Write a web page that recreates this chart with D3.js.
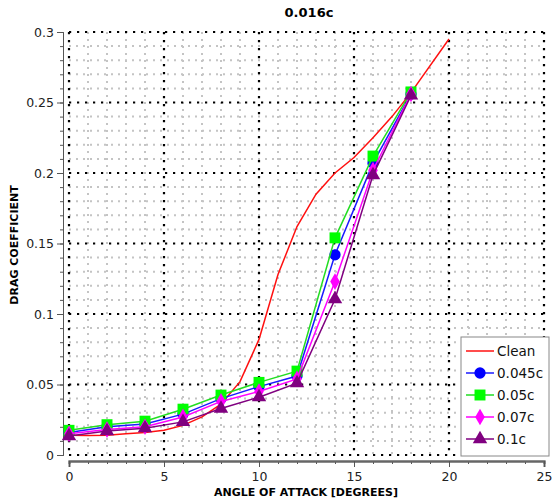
<!DOCTYPE html>
<html>
<head>
<meta charset="utf-8">
<script src="https://cdn.jsdelivr.net/npm/d3@7"></script>
<style>
  body { margin: 0; background: #fff; }
  svg { display: block; font-family: "DejaVu Sans", Verdana, sans-serif; }
</style>
</head>
<body>
<svg id="chart" width="552" height="504"></svg>
<script>
// angles of attack where the coated cases were measured
var angles = [0, 2, 4, 6, 8, 10, 12, 14, 16, 18];
var cleanAngles = [0, 1, 2, 3, 4, 5, 6, 7, 8, 9, 10, 11, 12, 13, 14, 15, 16, 17, 18, 20];
var clean = [0.014, 0.0138, 0.014, 0.015, 0.016, 0.0175, 0.021, 0.027, 0.036, 0.052,
             0.082, 0.128, 0.162, 0.185, 0.200, 0.211, 0.225, 0.240, 0.257, 0.295];
var c045 = [0.016, 0.020, 0.022, 0.029, 0.040, 0.0485, 0.056, 0.142, 0.207, 0.256];
var c05  = [0.0175, 0.0215, 0.024, 0.0325, 0.0425, 0.0515, 0.0595, 0.154, 0.212, 0.2575];
var c07  = [0.015, 0.018, 0.020, 0.027, 0.038, 0.045, 0.054, 0.123, 0.202, 0.256];
var c1   = [0.0135, 0.017, 0.019, 0.0235, 0.033, 0.041, 0.051, 0.1105, 0.1985, 0.255];
var xTicks = [0, 5, 10, 15, 20, 25];
var yTicks = [0, 0.05, 0.1, 0.15, 0.2, 0.25, 0.3];

var svg = d3.select("#chart");

var x = d3.scaleLinear().domain([0, 25]).range([69, 544]),
    y = d3.scaleLinear().domain([0, 0.3]).range([455, 32]);

// minor grid (grey dots)
var g = svg.append("g");
g.selectAll(".vminor").data(d3.range(0, 26).filter(function(d) { return d % 5; }))
  .enter().append("line")
  .attr("x1", function(d) { return x(d); }).attr("x2", function(d) { return x(d); })
  .attr("y1", y(0.3)).attr("y2", y(0))
  .attr("stroke", "#c4c4c4").attr("stroke-width", 2).attr("stroke-dasharray", "2,5");
g.selectAll(".hminor").data(d3.range(0, 31).filter(function(d) { return d % 5; }))
  .enter().append("line")
  .attr("y1", function(d) { return y(d / 100); }).attr("y2", function(d) { return y(d / 100); })
  .attr("x1", x(0)).attr("x2", x(25))
  .attr("stroke", "#c4c4c4").attr("stroke-width", 2).attr("stroke-dasharray", "2,5");

// major grid (black dots)
g.selectAll(".vmajor").data(xTicks)
  .enter().append("line")
  .attr("x1", function(d) { return x(d); }).attr("x2", function(d) { return x(d); })
  .attr("y1", y(0.3)).attr("y2", y(0))
  .attr("stroke", "#000").attr("stroke-width", 2.2).attr("stroke-dasharray", "2.2,5.8");
g.selectAll(".hmajor").data(yTicks)
  .enter().append("line")
  .attr("y1", function(d) { return y(d); }).attr("y2", function(d) { return y(d); })
  .attr("x1", x(0)).attr("x2", x(25))
  .attr("stroke", "#000").attr("stroke-width", 2.2).attr("stroke-dasharray", "2.2,5.8");

// axes
var yAxis = svg.append("g").attr("transform", "translate(63,0)");
yAxis.call(d3.axisLeft(y).tickValues(d3.range(0, 31).map(function(d) { return d / 100; }))
  .tickSize(3).tickFormat(""));
yAxis.append("g").call(d3.axisLeft(y).tickValues(yTicks).tickSize(6).tickFormat(d3.format("")));
yAxis.selectAll("path, line").attr("stroke", "#555");
yAxis.selectAll("text").attr("font-size", "12.5px").attr("fill", "#222")
  .attr("font-family", "DejaVu Sans");

var xAxis = svg.append("g").attr("transform", "translate(0,461)");
xAxis.call(d3.axisBottom(x).tickValues(d3.range(0, 26)).tickSize(3).tickFormat(""));
xAxis.append("g").call(d3.axisBottom(x).tickValues(xTicks).tickSize(6).tickFormat(d3.format("")));
xAxis.selectAll("path").attr("stroke", "#666").attr("stroke-width", 2);
xAxis.selectAll("line").attr("stroke", "#555");
xAxis.selectAll("text").attr("font-size", "12.5px").attr("fill", "#222")
  .attr("font-family", "DejaVu Sans").attr("dy", "0.9em");

// titles
svg.append("text").attr("x", 309).attr("y", 17).attr("text-anchor", "middle")
  .attr("font-size", "13px").attr("font-weight", "bold").text("0.016c");
svg.append("text").attr("x", 306).attr("y", 496).attr("text-anchor", "middle")
  .attr("font-size", "11px").attr("font-weight", "bold").text("ANGLE OF ATTACK [DEGREES]");
svg.append("text").attr("transform", "translate(18,245) rotate(-90)").attr("text-anchor", "middle")
  .attr("font-size", "11px").attr("font-weight", "bold").text("DRAG COEFFICIENT");

// series
var line = d3.line()
  .x(function(d) { return x(d[0]); })
  .y(function(d) { return y(d[1]); });

svg.append("path")
  .datum(d3.zip(cleanAngles, clean))
  .attr("d", line).attr("fill", "none").attr("stroke", "#ff1010").attr("stroke-width", 1.5);

var series = [
  {name: "0.045c", values: c045, color: "#0000ff", line: "#1a1aff", symbol: d3.symbolCircle, size: 100},
  {name: "0.05c",  values: c05,  color: "#00ff00", line: "#22dd22", symbol: d3.symbolSquare, size: 120},
  {name: "0.07c",  values: c07,  color: "#ff00ff", line: "#ff00ff", symbol: d3.symbolDiamond, size: 80},
  {name: "0.1c",   values: c1,   color: "#800080", line: "#800080", symbol: d3.symbolTriangle, size: 90}
];

series.forEach(function(s) {
  var pts = d3.zip(angles, s.values);
  svg.append("path").datum(pts)
    .attr("d", line).attr("fill", "none").attr("stroke", s.line).attr("stroke-width", 1.5);
  svg.selectAll(null).data(pts).enter().append("path")
    .attr("transform", function(d) { return "translate(" + x(d[0]) + "," + y(d[1]) + ")"; })
    .attr("d", d3.symbol().type(s.symbol).size(s.size))
    .attr("fill", s.color);
});

// legend
var lg = svg.append("g").attr("transform", "translate(461,337)");
lg.append("rect").attr("width", 88).attr("height", 119)
  .attr("fill", "#fff").attr("stroke", "#888").attr("stroke-width", 1);
var items = [{name: "Clean", line: "#ff1010"}].concat(series);
items.forEach(function(s, i) {
  var yy = 14 + i * 22;
  lg.append("line").attr("x1", 5).attr("x2", 33).attr("y1", yy).attr("y2", yy)
    .attr("stroke", s.line).attr("stroke-width", 1.5);
  if (s.symbol) {
    lg.append("path").attr("transform", "translate(19," + yy + ")")
      .attr("d", d3.symbol().type(s.symbol).size(s.size)).attr("fill", s.color);
  }
  lg.append("text").attr("x", 36).attr("y", yy).attr("dy", "0.35em")
    .attr("font-size", "13.5px").attr("fill", "#111").text(s.name);
});
</script>
</body>
</html>
